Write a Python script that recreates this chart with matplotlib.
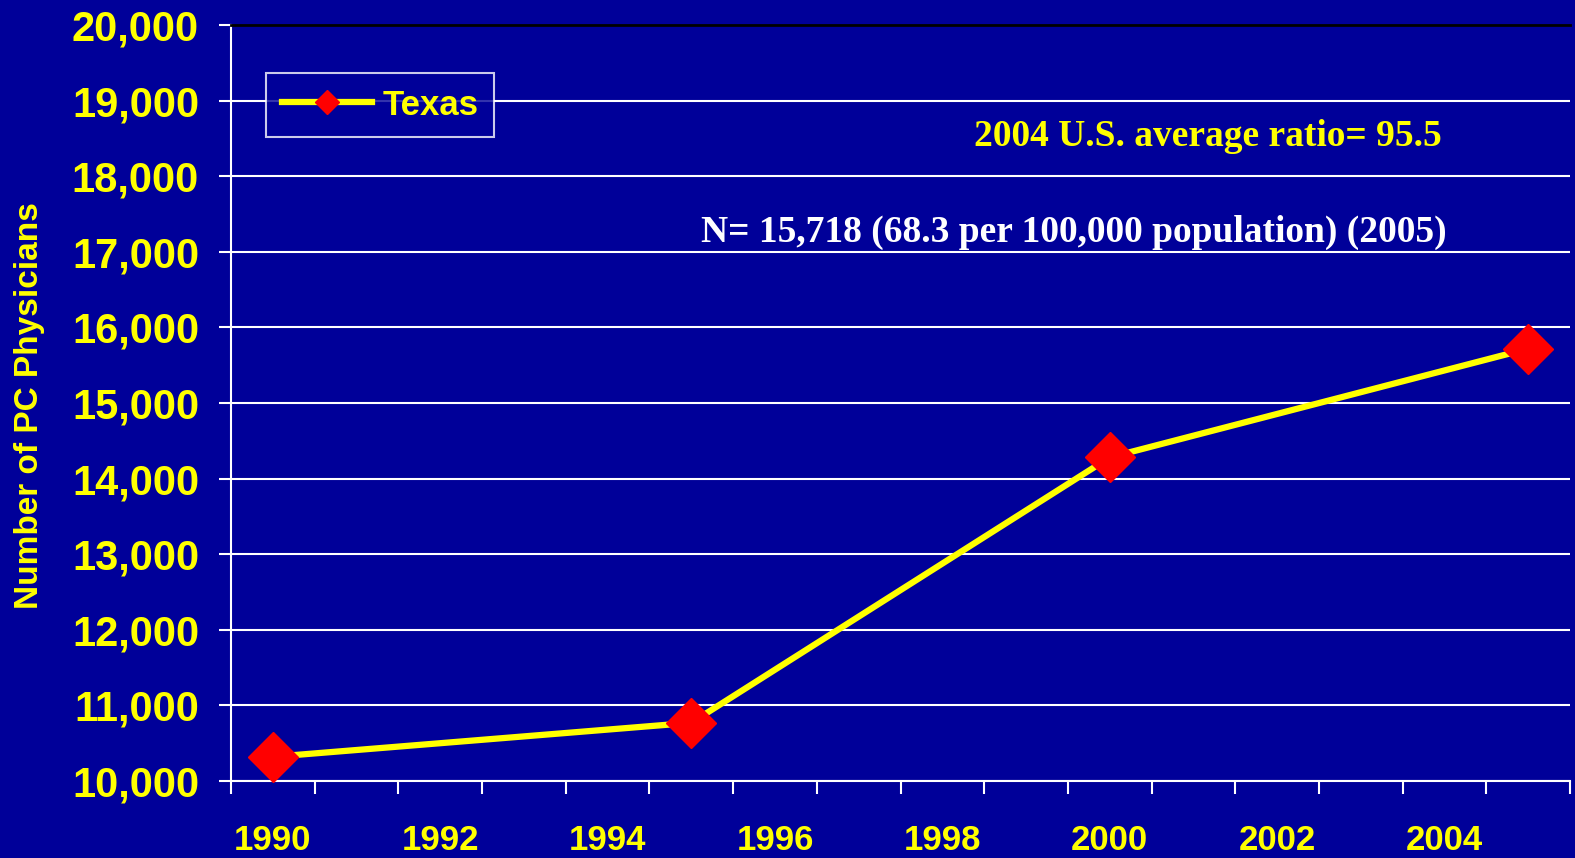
import matplotlib
matplotlib.use('Agg')
import matplotlib.pyplot as plt
from matplotlib.ticker import FixedLocator, FuncFormatter

BG = '#000099'
YELLOW = '#FFFF00'

years = list(range(1990, 2006))
tick_years = [1990, 1992, 1994, 1996, 1998, 2000, 2002, 2004]
point_years = [1990, 1995, 2000, 2005]
physicians = [10320, 10770, 14280, 15718]

fig = plt.figure(figsize=(15.75, 8.58), dpi=100, facecolor=BG)
ax = fig.add_axes([231 / 1575, 1 - 781 / 858, 1339 / 1575, 756 / 858])
ax.set_facecolor(BG)

# categorical x axis: one slot per year
xpos = [years.index(y) for y in point_years]
ax.plot(xpos, physicians, color=YELLOW, lw=4.5, marker='D', ms=25,
        mfc='#FF0000', mec='#FF0000', label='Texas', zorder=5, clip_on=False)

ax.set_xlim(-0.5, len(years) - 0.5)
ax.set_ylim(10000, 20000)

ax.xaxis.set_major_locator(FixedLocator([years.index(y) for y in tick_years]))
ax.set_xticklabels([str(y) for y in tick_years])
ax.xaxis.set_minor_locator(FixedLocator([i - 0.5 for i in range(len(years) + 1)]))
ax.tick_params(axis='x', which='major', length=0, pad=31, labelsize=25,
               labelcolor=YELLOW)
ax.tick_params(axis='x', which='minor', length=9, width=1.5, color='white')

ax.set_yticks(range(10000, 20001, 1000))
ax.yaxis.set_major_formatter(FuncFormatter(lambda v, p: f'{int(v):,}'))
ax.tick_params(axis='y', length=9, width=1.5, color='white', pad=14,
               labelsize=30, labelcolor=YELLOW)

for lbl in ax.get_xticklabels() + ax.get_yticklabels():
    lbl.set_fontfamily('Liberation Sans')
    lbl.set_fontweight('bold')

ax.grid(axis='y', color='white', lw=1.5)
ax.set_axisbelow(True)
ax.spines['left'].set_color('white')
ax.spines['left'].set_linewidth(1.5)
ax.spines['bottom'].set_color('white')
ax.spines['bottom'].set_linewidth(1.5)
ax.spines['top'].set_color('black')
ax.spines['top'].set_linewidth(2)
ax.spines['right'].set_visible(False)

ax.set_ylabel('Number of PC Physicians', color=YELLOW, fontsize=24,
              fontfamily='Liberation Sans', fontweight='bold')
ax.yaxis.set_label_coords(-186 / 1339, (781 - 406) / 756)

leg = ax.legend(loc='upper left', bbox_to_anchor=(35 / 1339, (781 - 73) / 756),
                markerscale=0.5, handlelength=2.6, frameon=True, fancybox=False,
                borderpad=0.45, handletextpad=0.3, borderaxespad=0,
                prop={'family': 'Liberation Sans', 'weight': 'bold', 'size': 25})
leg.get_frame().set_facecolor(BG)
leg.get_frame().set_edgecolor('white')
leg.get_frame().set_linewidth(1.5)
for t in leg.get_texts():
    t.set_color(YELLOW)

ax.text((1442 - 231) / 1339, (781 - 137) / 756, '2004 U.S. average ratio= 95.5',
        transform=ax.transAxes, ha='right', va='center', color=YELLOW, fontsize=27,
        fontfamily='Liberation Serif', fontweight='bold')
ax.text((1447 - 231) / 1339, (781 - 232) / 756,
        'N= 15,718 (68.3 per 100,000 population) (2005)',
        transform=ax.transAxes, ha='right', va='center', color='white',
        fontsize=27, fontfamily='Liberation Serif', fontweight='bold')

fig.savefig('out.png', dpi=100, facecolor=BG)
